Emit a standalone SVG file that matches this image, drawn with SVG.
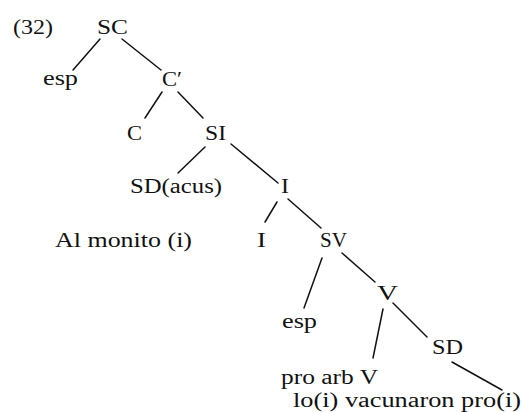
<svg xmlns="http://www.w3.org/2000/svg" width="524" height="412" viewBox="0 0 524 412">
<style>
text{font-family:"Liberation Serif","DejaVu Serif",serif;font-size:20px;fill:#111}
.e line{stroke:#111;stroke-width:1.5;stroke-linecap:round}
</style>
<rect width="524" height="412" fill="#fff"/>
<g id="label-32"><text x="13" y="34" textLength="40" lengthAdjust="spacingAndGlyphs">(32)</text></g>
<g id="n-SC"><text x="97" y="34" textLength="31" lengthAdjust="spacingAndGlyphs">SC</text></g>
<g id="n-esp1"><text x="43" y="85" textLength="35" lengthAdjust="spacingAndGlyphs">esp</text></g>
<g id="n-Cbar"><text x="162" y="86" textLength="20" lengthAdjust="spacingAndGlyphs">C′</text></g>
<g id="n-C"><text x="127" y="140" textLength="15" lengthAdjust="spacingAndGlyphs">C</text></g>
<g id="n-SI"><text x="205" y="140" textLength="21" lengthAdjust="spacingAndGlyphs">SI</text></g>
<g id="n-SDacus"><text x="130" y="193" textLength="92" lengthAdjust="spacingAndGlyphs">SD(acus)</text></g>
<g id="n-Ibar"><text x="281" y="193" textLength="8" lengthAdjust="spacingAndGlyphs">I</text></g>
<g id="t-monito"><text x="55" y="247" textLength="137" lengthAdjust="spacingAndGlyphs">Al monito (i)</text></g>
<g id="n-I"><text x="257" y="247" textLength="9" lengthAdjust="spacingAndGlyphs">I</text></g>
<g id="n-SV"><text x="320" y="247" textLength="27" lengthAdjust="spacingAndGlyphs">SV</text></g>
<g id="n-Vbar"><text x="377" y="300" textLength="21" lengthAdjust="spacingAndGlyphs">V</text></g>
<g id="n-esp2"><text x="282" y="328" textLength="35" lengthAdjust="spacingAndGlyphs">esp</text></g>
<g id="n-SD"><text x="432" y="354" textLength="31" lengthAdjust="spacingAndGlyphs">SD</text></g>
<g id="n-V"><text x="281" y="384" textLength="97" lengthAdjust="spacingAndGlyphs">pro arb V</text></g>
<g id="t-words"><text x="293" y="407" textLength="228" lengthAdjust="spacingAndGlyphs">lo(i) vacunaron pro(i)</text></g>
<g id="connectors" class="e">
<line x1="100" y1="39" x2="73" y2="70"/>
<line x1="122" y1="39" x2="161" y2="70"/>
<line x1="162" y1="92" x2="145" y2="118"/>
<line x1="178" y1="92" x2="203" y2="118"/>
<line x1="205" y1="147" x2="178" y2="173"/>
<line x1="231" y1="144" x2="278" y2="183"/>
<line x1="277" y1="202" x2="265" y2="222"/>
<line x1="288" y1="199" x2="321" y2="228"/>
<line x1="322" y1="258" x2="304" y2="308"/>
<line x1="342" y1="253" x2="375" y2="282"/>
<line x1="383" y1="309" x2="373" y2="358"/>
<line x1="393" y1="303" x2="427" y2="337"/>
<line x1="452" y1="362" x2="502" y2="390"/>
</g>
</svg>
